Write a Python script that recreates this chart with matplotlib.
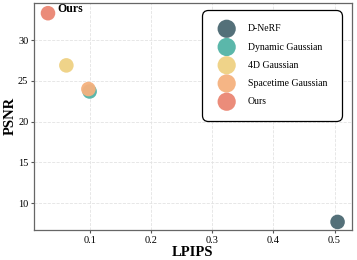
import numpy as np
import matplotlib
matplotlib.use("Agg")
import matplotlib.pyplot as plt

plt.rcParams['font.family'] = ['Liberation Serif', 'DejaVu Serif']

methods = ["D-NeRF", "Dynamic Gaussian", "4D Gaussian", "Spacetime Gaussian", "Ours"]
lpips = [0.505, 0.100, 0.062, 0.098, 0.032]
psnr = [7.7, 23.7, 26.9, 24.0, 33.3]
colors = ["#4b6872", "#52b3a6", "#efd183", "#f5b17e", "#ea8673"]

fig, ax = plt.subplots(figsize=(3.57, 2.6), dpi=100)

for m, x, y, c in zip(methods, lpips, psnr, colors):
    ax.scatter(x, y, s=110, color=c, alpha=0.95, edgecolors='none', label=m, zorder=3)

ax.annotate("Ours", (lpips[-1], psnr[-1]), xytext=(7, 1), textcoords='offset points',
            fontsize=8.5, fontweight='bold')

ax.set_xlim(0.009, 0.528)
ax.set_ylim(6.7, 34.6)
ax.set_xticks([0.1, 0.2, 0.3, 0.4, 0.5])
ax.set_yticks([10, 15, 20, 25, 30])
ax.tick_params(labelsize=7.5, length=2, pad=2, color='#555555')
ax.grid(True, linestyle='--', color='#e3e3e3', linewidth=0.6)
for s in ax.spines.values():
    s.set_color('#666666')
    s.set_linewidth(0.9)

ax.set_xlabel("LPIPS", fontsize=10.5, fontweight='bold', labelpad=1)
ax.set_ylabel("PSNR", fontsize=10.5, fontweight='bold', labelpad=1)

leg = ax.legend(loc='upper right', fontsize=7, frameon=True, fancybox=True,
                edgecolor='black', borderpad=1.5, labelspacing=0.95, handletextpad=1.2,
                markerscale=1.25, bbox_to_anchor=(0.985, 0.99), framealpha=1)
leg.get_frame().set_linewidth(0.9)
leg.get_frame().set_boxstyle('round', pad=0, rounding_size=0.6)

fig.subplots_adjust(left=0.095, right=0.985, top=0.99, bottom=0.115)
fig.savefig("out.png", dpi=100)
